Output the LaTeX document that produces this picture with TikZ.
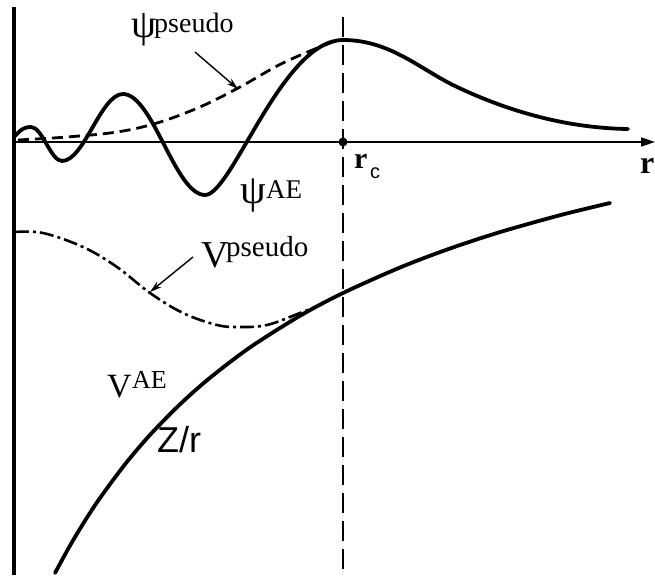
\documentclass[tikz,border=0pt]{standalone}
\usepackage{fontspec}
\setmainfont{Liberation Serif}
\newfontfamily\sansf{Liberation Sans}
\usetikzlibrary{arrows.meta}
\newcommand{\fs}[1]{\fontsize{#1}{#1}\selectfont}
\begin{document}
\begin{tikzpicture}[x=1pt,y=-1pt,
  thick curve/.style={line width=3.8pt,line cap=round,line join=round},
  axisline/.style={line width=1.5pt},
  pointer/.style={line width=1.4pt,-{Stealth[length=12pt,width=7pt]}},
  lbl/.style={inner sep=0pt,anchor=base west}]
\useasboundingbox (0,0) rectangle (655,575);
\fill[white] (0,0) rectangle (655,575);

% axes
\coordinate (yt) at (14,7);
\coordinate (yb) at (14,575);
\coordinate (xo) at (14,142);
\coordinate (xe) at (655,142);
\draw[line width=3.4pt] (yt) -- (yb);
\draw[axisline,-{Triangle[length=14pt,width=9pt]}] (xo) -- (xe);

% r_c dashed line
\coordinate (rct) at (343,17);
\coordinate (rcb) at (343,572);
\coordinate (rc) at (343,142);
\draw[line width=1.8pt,dash pattern=on 20pt off 8pt] (rct) -- (rcb);
\fill (rc) circle (4.5pt);

% psi pseudo (dashed)
\draw[line width=2.8pt,dash pattern=on 11pt off 6pt] plot[smooth,tension=0.6] coordinates
 {(18,140) (67,137) (117,132) (157,123) (200,107) (240,87) (283,63) (330,43) (343,40)};

% psi AE
\draw[thick curve] (15,136) .. controls (22,128) and (26,127) .. (31,127)
  .. controls (42.3,127) and (50.7,161) .. (62,161)
  .. controls (84.1,161) and (100.9,94) .. (123,94)
  .. controls (152.8,94) and (175.2,195) .. (205,195)
  .. controls (232,195) and (282,40) .. (343,40)
  .. controls (390,40) and (420,69.2) .. (455,86)
  .. controls (500,107.6) and (560,128) .. (628,129);

% V pseudo (dash dot)
\draw[line width=2.6pt,dash pattern=on 14pt off 4pt on 3pt off 4pt] plot[smooth,tension=0.6] coordinates
 {(15,232) (43,233) (83,247) (117,267) (150,293) (183,313) (217,325) (240,327) (267,325) (300,313) (322,304)};

% V AE
\draw[thick curve] plot[smooth,tension=0.5] coordinates
 {(55,573) (70,545.6) (85,520.7) (100,498) (125,464.3) (150,434.9) (180,404.3) (210,377.8) (250,347.4) (300,315.8) (343,293) (400,267.5) (450,248.5) (500,232.1) (560,215.2) (610,203)};

% pointers
\coordinate (pa1) at (195,52);
\coordinate (pa2) at (238,89);
\draw[pointer] (pa1) -- (pa2);
\coordinate (va1) at (193,257);
\coordinate (va2) at (150,292);
\draw[pointer] (va1) -- (va2);

% labels
\node[lbl] (psipl) at (131,38) {\fs{40}ψ};
\node[lbl] (psips) at (154,33) {\fs{28}pseudo};
\node[lbl] (psiael) at (240,203) {\fs{41}ψ};
\node[lbl] (psiaes) at (266,198) {\fs{27}AE};
\node[lbl] (vpl) at (201,267) {\fs{38}V};
\node[lbl] (vps) at (226,256) {\fs{29}pseudo};
\node[lbl] (vael) at (107,397) {\fs{34}V};
\node[lbl] (vaes) at (132,388) {\fs{26}AE};
\node[lbl] (zr) at (157,452) {\sansf\fs{36}Z/r};
\node[lbl] (rcl) at (354,168) {\fs{30}\bfseries r};
\node[lbl] (rcs) at (370,178) {\sansf\fs{20}c};
\node[lbl] (rl) at (640,173) {\fs{32}\bfseries r};
\end{tikzpicture}
\end{document}
